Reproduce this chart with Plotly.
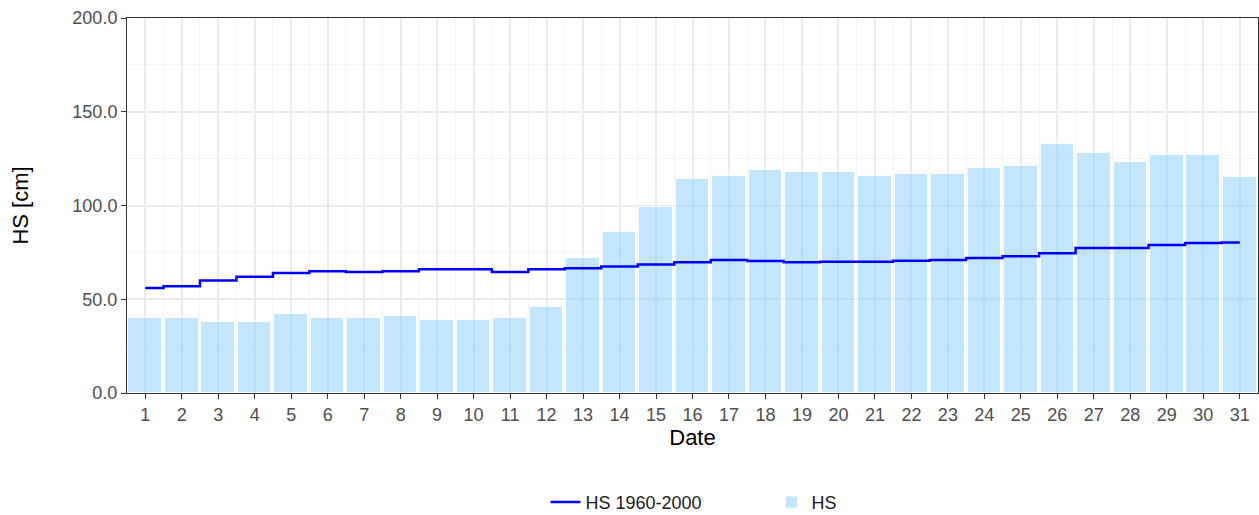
import plotly.graph_objects as go

days = list(range(1, 32))
hs = [40, 40, 38, 38, 42, 40, 40, 41, 39, 39, 40, 46, 72, 86, 99, 114,
      116, 119, 118, 118, 116, 117, 117, 120, 121, 133, 128, 123, 127, 127, 115]
hs_clim = [56, 57, 60, 62, 64, 65, 64.5, 65, 66, 66, 64.5, 66, 66.5, 67.5, 68.5, 69.7,
           71, 70.4, 69.7, 70, 70, 70.5, 71, 72, 73, 74.5, 77.3, 77.4, 79, 80, 80.3]

fig = go.Figure()
fig.add_trace(go.Bar(
    x=days, y=hs, name="HS", width=0.92,
    marker=dict(color="rgba(135,206,250,0.5)", line=dict(color="rgba(255,255,255,0.8)", width=1)),
    legendrank=2,
))
fig.add_trace(go.Scatter(
    x=days, y=hs_clim, name="HS 1960-2000", mode="lines",
    line=dict(color="#0000FF", width=2.5, shape="hvh"),
    legendrank=1,
))

tickfont = dict(family="Liberation Sans, Arial, sans-serif", size=18, color="#4d4d4d")
titlefont = dict(family="Liberation Sans, Arial, sans-serif", size=22, color="#000000")

fig.update_layout(
    width=1259, height=515,
    margin=dict(l=127, r=1, t=18, b=122, autoexpand=False),
    paper_bgcolor="white", plot_bgcolor="white",
    font=dict(family="Liberation Sans, Arial, sans-serif", size=18, color="#000000"),
    showlegend=True,
    legend=dict(orientation="h", x=0.37, xanchor="left", y=-0.341, yanchor="bottom",
                font=dict(size=18, color="#1a1a1a"), itemwidth=30,
                traceorder="normal", entrywidth=181),
    bargap=0,
)
fig.update_xaxes(
    range=[0.5, 31.5], tickmode="array", tickvals=days, ticktext=[str(d) for d in days],
    tickfont=tickfont, ticks="outside", ticklen=5, tickcolor="#333333", tickwidth=1,
    showline=True, linecolor="#333333", linewidth=1, mirror=True,
    showgrid=True, gridcolor="#ebebeb", gridwidth=1.5,
    minor=dict(tickmode="array", tickvals=[d + 0.5 for d in range(0, 32)], showgrid=True,
               gridcolor="#f4f4f4", gridwidth=1, ticks=""),
    title=dict(text="Date", font=titlefont, standoff=6),
    zeroline=False, automargin=False,
)
fig.update_yaxes(
    range=[0, 200], dtick=50, tick0=0, tickformat=".1f",
    tickfont=tickfont, ticks="outside", ticklen=5, tickcolor="#333333", tickwidth=1,
    showline=True, linecolor="#333333", linewidth=1, mirror=True,
    showgrid=True, gridcolor="#ebebeb", gridwidth=1.5,
    minor=dict(dtick=25, tick0=25, showgrid=True, gridcolor="#f4f4f4", gridwidth=1, ticks=""),
    title=dict(text="HS [cm]", font=titlefont, standoff=37),
    zeroline=False, automargin=False,
)

fig.write_html("out.html", config={"displayModeBar": False},
               post_script="document.body.style.margin='0';document.body.style.overflow='hidden';")
